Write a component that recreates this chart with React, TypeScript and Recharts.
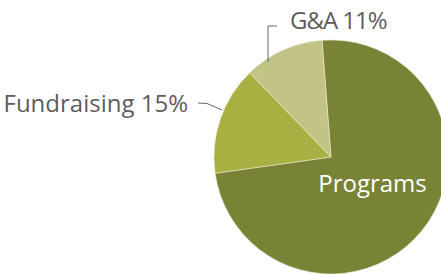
import { PieChart, Pie, Cell } from 'recharts'

const categories = ['Programs', 'Fundraising', 'G&A']
const shares = [74, 15, 11]
const colors = ['#798335', '#a9b042', '#c2c486']

const data = categories.map((name, i) => ({ name, value: shares[i] }))

const TEXT = '#5d5d5d'
const FONT = '"Open Sans", sans-serif'

function renderLabel(props: any) {
  const { cx, cy, index, name, value } = props

  if (index === 0) {
    return (
      <text x={cx + 41.5} y={cy + 35} fill="#ffffff" fontSize={24} fontFamily={FONT} textAnchor="middle">
        {name}
      </text>
    )
  }

  if (index === 1) {
    return (
      <g>
        <polyline
          points={`${cx - 133},${cy - 54} ${cx - 124},${cy - 53.5} ${cx - 109},${cy - 47}`}
          fill="none"
          stroke="#666"
          strokeWidth={1}
        />
        <text x={cx - 143} y={cy - 45} fill={TEXT} fontSize={24} fontFamily={FONT} textAnchor="end">
          {`${name} ${value}%`}
        </text>
      </g>
    )
  }

  return (
    <g>
      <polyline
        points={`${cx - 63},${cy - 95} ${cx - 63},${cy - 131} ${cx - 54},${cy - 131}`}
        fill="none"
        stroke="#666"
        strokeWidth={1}
      />
      <text x={cx - 41} y={cy - 128} fill={TEXT} fontSize={24} fontFamily={FONT} letterSpacing={-1}>
        {`${name} ${value}%`}
      </text>
    </g>
  )
}

export default function App() {
  return (
    <div style={{ position: 'fixed', left: 0, top: 0, width: 441, height: 275, background: '#fff' }}>
      <PieChart width={441} height={275} margin={{ top: 0, right: 0, bottom: 0, left: 0 }}>
        <Pie
          data={data}
          dataKey="value"
          nameKey="name"
          cx={331}
          cy={157}
          outerRadius={117}
          startAngle={94.4}
          endAngle={-265.6}
          stroke="#e6e8cf"
          strokeWidth={0.6}
          label={renderLabel}
          labelLine={false}
          isAnimationActive={false}
        >
          {data.map((d, i) => (
            <Cell key={d.name} fill={colors[i]} />
          ))}
        </Pie>
      </PieChart>
    </div>
  )
}
